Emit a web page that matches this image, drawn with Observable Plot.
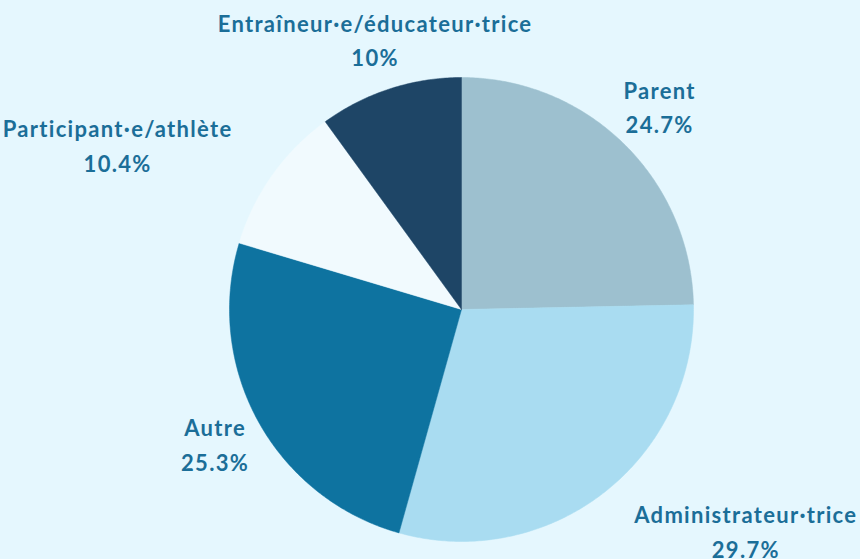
<!DOCTYPE html>
<html>
<head>
<meta charset="utf-8">
<script src="https://cdn.jsdelivr.net/npm/d3@7"></script>
<script src="https://cdn.jsdelivr.net/npm/@observablehq/plot@0.6"></script>
<style>
  html, body { margin: 0; padding: 0; background: #e5f7fe; }
  #chart svg { display: block; }
  #chart text { letter-spacing: 1.3px; }
</style>
</head>
<body>
<div id="chart"></div>
<script>
// Data (clockwise from 12 o'clock)
const categories = ["Parent", "Administrateur·trice", "Autre", "Participant·e/athlète", "Entraîneur·e/éducateur·trice"];
const values = [24.7, 29.7, 25.3, 10.4, 10];
const valueLabels = ["24.7%", "29.7%", "25.3%", "10.4%", "10%"];
const colors = ["#9dc0cf", "#a9dcf1", "#0e73a0", "#f1fafe", "#1e4566"];
const labelAnchors = ["middle", "start", "middle", "end", "middle"];

const W = 860, H = 559;
const cx = 461, cy = 309, R = 232;   // layout in pixels
const labelR = 1.216;                  // label radius in units of R
const fontSize = 22, letterSp = 1.3;

const pie = d3.pie().sort(null).value(d => d.value);
const arcs = pie(categories.map((c, i) => ({name: c, value: values[i], idx: i})));

// polygon outlines of each slice (unit radius, y up)
const slicePts = [];
for (const a of arcs) {
  const n = Math.max(2, Math.ceil((a.endAngle - a.startAngle) / 0.01));
  slicePts.push({name: a.data.name, x: 0, y: 0});
  for (let k = 0; k <= n; k++) {
    const t = a.startAngle + (a.endAngle - a.startAngle) * k / n;
    slicePts.push({name: a.data.name, x: Math.sin(t), y: Math.cos(t)});
  }
  slicePts.push({name: a.data.name, x: 0, y: 0});
}

// measure label block width so that blocks are centre-aligned internally
const ctx = document.createElement("canvas").getContext("2d");
ctx.font = `bold ${fontSize}px Lato, 'Open Sans', sans-serif`;
const textW = s => ctx.measureText(s).width + letterSp * (s.length - 1);

const labels = arcs.map(a => {
  const m = (a.startAngle + a.endAngle) / 2;
  const i = a.data.idx;
  const half = Math.max(textW(a.data.name), textW(valueLabels[i])) / 2 / R;
  const shift = labelAnchors[i] === "start" ? half : labelAnchors[i] === "end" ? -half : 0;
  return {
    name: a.data.name,
    text: a.data.name + "\n" + valueLabels[i],
    x: labelR * Math.sin(m) + shift,
    y: labelR * Math.cos(m)
  };
});

const chart = Plot.plot({
  width: W,
  height: H,
  margin: 0,
  style: {background: "#e5f7fe", fontFamily: "Lato, 'Open Sans', sans-serif"},
  x: {domain: [-cx / R, (W - cx) / R], axis: null},
  y: {domain: [-(H - cy) / R, cy / R], axis: null},
  color: {domain: categories, range: colors},
  marks: [
    Plot.line(slicePts, {x: "x", y: "y", z: "name", fill: "name", stroke: "name", strokeWidth: 0.5, curve: "linear"}),
    Plot.text(labels, {
      x: "x", y: "y", text: "text",
      fill: "#1b6e98",
      fontSize,
      fontWeight: 700,
      lineHeight: 1.57,
      dy: -3,
      dx: letterSp / 2,
      textAnchor: "middle"
    })
  ]
});
document.getElementById("chart").appendChild(chart);
</script>
</body>
</html>
